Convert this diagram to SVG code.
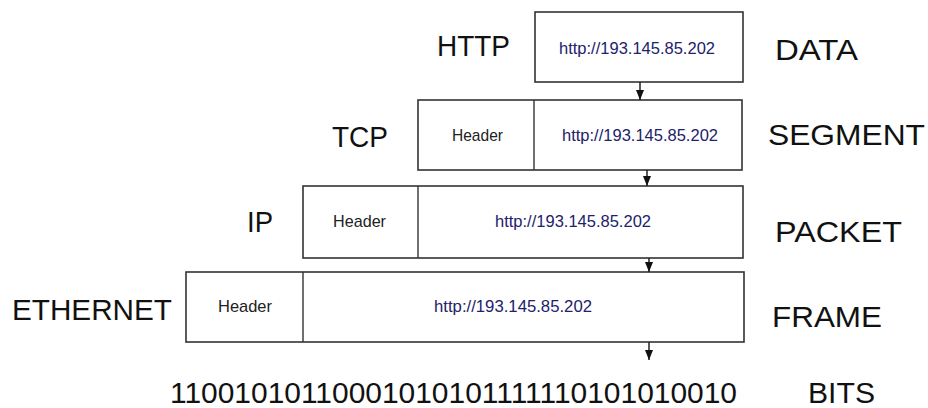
<svg xmlns="http://www.w3.org/2000/svg" width="928" height="408" viewBox="0 0 928 408">
<defs>
<style>
.box{fill:#fff;stroke:#333;stroke-width:1.6}
.div{stroke:#333;stroke-width:1.4}
.lbl{font-family:"Liberation Sans",Arial,sans-serif;font-size:29px;fill:#111}
.hdr{font-family:"Liberation Sans",Arial,sans-serif;font-size:17px;fill:#222}
.url{font-family:"Liberation Sans",Arial,sans-serif;font-size:17px;fill:#22226a}
.conn{stroke:#222;stroke-width:1.5;fill:none}
</style>
<marker id="ah" viewBox="0 0 10 8" refX="10" refY="4" markerWidth="10" markerHeight="8" markerUnits="userSpaceOnUse" orient="auto">
<path d="M0,0 L10,4 L0,8 z" fill="#111"/>
</marker>
</defs>
<rect width="928" height="408" fill="#fff"/>
<g id="http">
<rect class="box" x="535" y="12" width="208" height="70"/>
<text class="lbl" x="437" y="56" textLength="73" lengthAdjust="spacingAndGlyphs">HTTP</text>
<text class="url" x="559" y="54" textLength="156" lengthAdjust="spacingAndGlyphs">http://193.145.85.202</text>
<text class="lbl" x="775" y="60" textLength="83" lengthAdjust="spacingAndGlyphs">DATA</text>
</g>
<g id="tcp">
<rect class="box" x="418" y="100" width="324" height="70"/>
<line class="div" x1="534" y1="100" x2="534" y2="170"/>
<text class="lbl" x="332" y="147" textLength="56" lengthAdjust="spacingAndGlyphs">TCP</text>
<text class="hdr" x="452" y="141" textLength="51" lengthAdjust="spacingAndGlyphs">Header</text>
<text class="url" x="562" y="141" textLength="156" lengthAdjust="spacingAndGlyphs">http://193.145.85.202</text>
<text class="lbl" x="768" y="145" textLength="157" lengthAdjust="spacingAndGlyphs">SEGMENT</text>
</g>
<g id="ip">
<rect class="box" x="303" y="186" width="440" height="72"/>
<line class="div" x1="418" y1="186" x2="418" y2="258"/>
<text class="lbl" x="247" y="232" textLength="26" lengthAdjust="spacingAndGlyphs">IP</text>
<text class="hdr" x="333" y="227" textLength="53" lengthAdjust="spacingAndGlyphs">Header</text>
<text class="url" x="495" y="227" textLength="156" lengthAdjust="spacingAndGlyphs">http://193.145.85.202</text>
<text class="lbl" x="775" y="242" textLength="127" lengthAdjust="spacingAndGlyphs">PACKET</text>
</g>
<g id="ethernet">
<rect class="box" x="186" y="272" width="558" height="70"/>
<line class="div" x1="303" y1="272" x2="303" y2="342"/>
<text class="lbl" x="12" y="320" textLength="160" lengthAdjust="spacingAndGlyphs">ETHERNET</text>
<text class="hdr" x="218" y="312" textLength="54" lengthAdjust="spacingAndGlyphs">Header</text>
<text class="url" x="434" y="312" textLength="158" lengthAdjust="spacingAndGlyphs">http://193.145.85.202</text>
<text class="lbl" x="772" y="327" textLength="110" lengthAdjust="spacingAndGlyphs">FRAME</text>
</g>
<g id="bits">
<text class="lbl" x="170" y="403" textLength="567" lengthAdjust="spacingAndGlyphs">11001010110001010101111110101010010</text>
<text class="lbl" x="808" y="403" textLength="67" lengthAdjust="spacingAndGlyphs">BITS</text>
</g>
<g id="connectors">
<line class="conn" x1="640" y1="82" x2="640" y2="100" marker-end="url(#ah)"/>
<line class="conn" x1="647" y1="170" x2="647" y2="186" marker-end="url(#ah)"/>
<line class="conn" x1="649" y1="258" x2="649" y2="272" marker-end="url(#ah)"/>
<line class="conn" x1="649" y1="342" x2="649" y2="360" marker-end="url(#ah)"/>
</g>
</svg>
